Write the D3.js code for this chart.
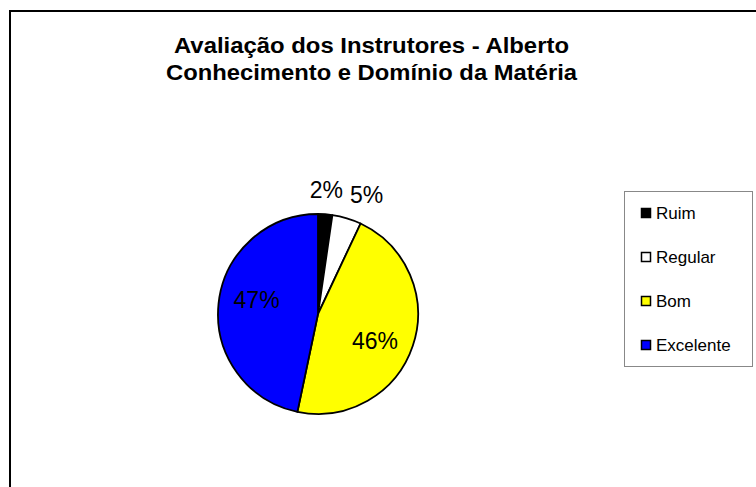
<!DOCTYPE html>
<html>
	<head>
		<meta charset="UTF-8">
		<title></title>
		<script src="https://d3js.org/d3.v7.min.js"></script>
		<style>
			body{margin:0;background:#fff;}
			svg{display:block;font-family:"Liberation Sans",Arial,sans-serif;}
		</style>
	</head>
	<body>
		<div id="svg"></div>
		<script>
      // dados
      const categories = ['Ruim','Regular','Bom','Excelente']
      const values = [2.3, 4.7, 46.3, 46.7]
      const labels = ['2%','5%','46%','47%']
      const colors = ['#000000','#ffffff','#ffff00','#0000ff']
      const titleLines = ['Avaliação dos Instrutores - Alberto','Conhecimento e Domínio da Matéria']

      const svg = d3.select('#svg').append('svg').attr('width',756).attr('height',487)

      // moldura do gráfico
      svg.append('rect').attr('x',10).attr('y',11).attr('width',780).attr('height',500)
         .attr('fill','#fff').attr('stroke','#000').attr('stroke-width',2)

      // título (fonte do Excel é um pouco mais larga)
      const titleW = [395, 411]
      svg.append('g').selectAll('text').data(titleLines).enter().append('text')
         .attr('x',371.5).attr('y',(d,i)=>53+i*27)
         .attr('text-anchor','middle').attr('font-size','22px').attr('font-weight','bold')
         .attr('textLength',(d,i)=>titleW[i]).attr('lengthAdjust','spacingAndGlyphs')
         .text(d=>d)

      // pizza
      const cx = 318, cy = 314, r = 100
      const pie = d3.pie().sort(null).value(d=>d)
      const pieData = pie(values)
      const arcPath = d3.arc().innerRadius(0).outerRadius(r)
      const inR = 63, inShift = 0.12

      const g = svg.append('g').attr('transform',`translate(${cx},${cy})`)
      g.selectAll('path').data(pieData).enter().append('path')
       .attr('d',arcPath).attr('fill',(d,i)=>colors[i])
       .attr('stroke','#000').attr('stroke-width',1.8).attr('stroke-linejoin','round')

      // rótulos: dentro para fatias grandes, fora para as pequenas
      const outR = 116
      g.selectAll('text').data(pieData).enter().append('text')
       .attr('font-size','23px')
       .each(function(d,i){
          const t = d3.select(this).text(labels[i])
          const a = (d.startAngle + d.endAngle)/2
          const big = (d.endAngle - d.startAngle) > 0.6
          if(big){
            const b = a + inShift
            t.attr('x',Math.sin(b)*inR).attr('y',-Math.cos(b)*inR).attr('dy','0.35em').attr('text-anchor','middle')
          }else{
            const px = Math.sin(a)*outR, py = -Math.cos(a)*outR
            const w = this.getComputedTextLength()
            const f = Math.max(0, Math.min(1, 0.65 - 2.1*Math.sin(a)))
            t.attr('x',px - f*w).attr('y',py).attr('text-anchor','start')
          }
       })

      // legenda
      const leg = svg.append('g')
      leg.append('rect').attr('x',624.5).attr('y',191.5).attr('width',128).attr('height',175)
         .attr('fill','#fff').attr('stroke','#888').attr('stroke-width',1)
      const ly = d3.scalePoint().domain(categories).range([213,345])
      const items = leg.selectAll('g.item').data(categories).enter().append('g')
         .attr('transform',d=>`translate(641,${ly(d)})`)
      items.append('rect').attr('x',0.5).attr('y',-4.5).attr('width',9).attr('height',9)
         .attr('fill',(d,i)=>colors[i]).attr('stroke','#000').attr('stroke-width',1.5)
      items.append('text').attr('x',15).attr('y',6).attr('font-size','17px').text(d=>d)
		</script>
	</body>
</html>
